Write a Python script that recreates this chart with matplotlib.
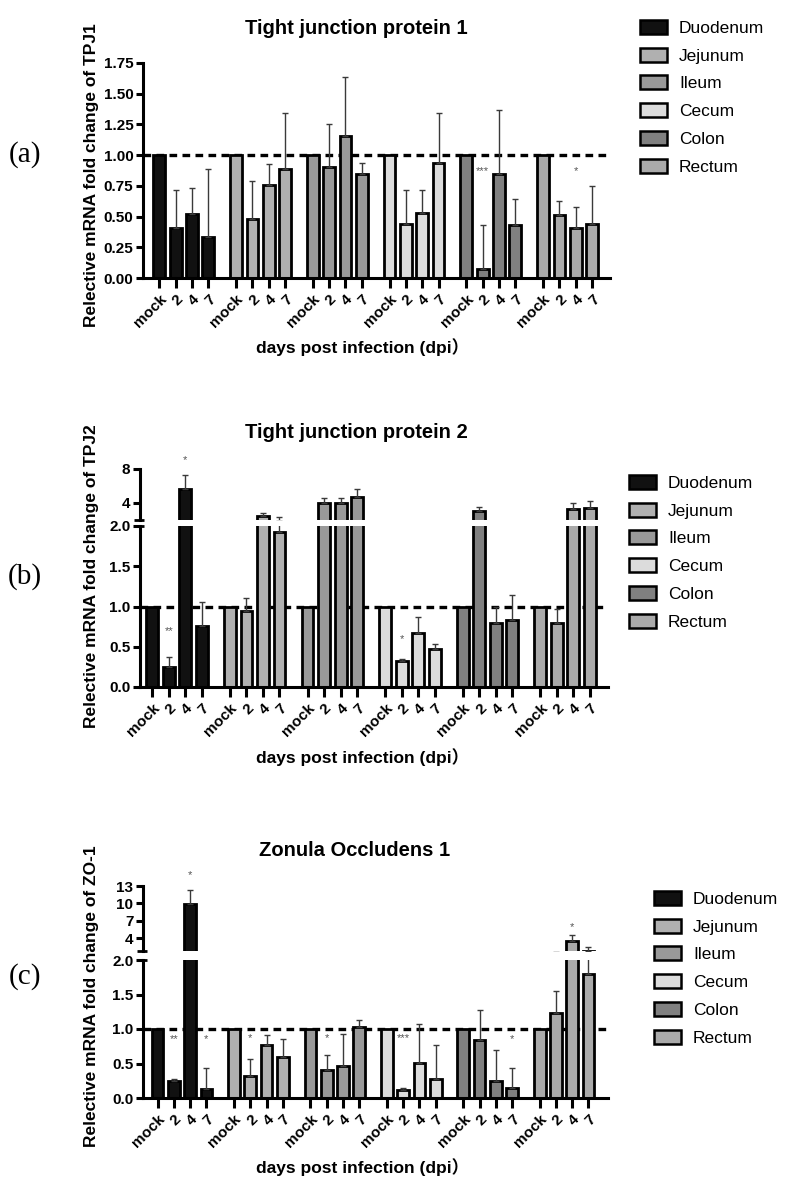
import numpy as np
import matplotlib.pyplot as plt
from matplotlib.patches import Patch

plt.rcParams['font.family'] = ['Liberation Sans', 'Noto Sans CJK SC', 'DejaVu Sans']
plt.rcParams['font.weight'] = 'bold'

W, H = 790, 1187

tissues = ["Duodenum", "Jejunum", "Ileum", "Cecum", "Colon", "Rectum"]
days = ["mock", "2", "4", "7"]
colors = ["#111111", "#b0b0b0", "#999999", "#dcdcdc", "#808080", "#aaaaaa"]

# panel (a) TPJ1: mean and upper error, one row per tissue
tpj1_mean = [[1.0, 0.41, 0.52, 0.33],
             [1.0, 0.48, 0.755, 0.89],
             [1.0, 0.905, 1.155, 0.845],
             [1.0, 0.44, 0.53, 0.94],
             [1.0, 0.075, 0.85, 0.43],
             [1.0, 0.51, 0.41, 0.44]]
tpj1_err = [[0, 0.31, 0.21, 0.56],
            [0, 0.31, 0.175, 0.45],
            [0, 0.345, 0.485, 0.095],
            [0, 0.28, 0.19, 0.405],
            [0, 0.355, 0.52, 0.21],
            [0, 0.12, 0.17, 0.305]]
tpj1_stars = [(4, 1, "***", 0.87), (5, 2, "*", 0.87)]

# panel (b) TPJ2
tpj2_mean = [[1.0, 0.25, 5.7, 0.76],
             [1.0, 0.94, 2.42, 1.92],
             [1.0, 4.0, 4.0, 4.65],
             [1.0, 0.32, 0.675, 0.47],
             [1.0, 3.0, 0.80, 0.83],
             [1.0, 0.80, 3.3, 3.46]]
tpj2_err = [[0, 0.12, 1.57, 0.29],
            [0, 0.16, 0.43, 0.38],
            [0, 0.6, 0.6, 1.05],
            [0, 0.03, 0.2, 0.06],
            [0, 0.58, 0.2, 0.31],
            [0, 0.17, 0.66, 0.77]]
tpj2_stars = [(0, 1, "**", 0.69), (0, 2, "*", 9.06), (3, 1, "*", 0.6)]

# panel (c) ZO-1
zo1_mean = [[1.0, 0.24, 9.9, 0.13],
            [1.0, 0.32, 0.77, 0.60],
            [1.0, 0.41, 0.46, 1.03],
            [1.0, 0.12, 0.51, 0.275],
            [1.0, 0.84, 0.24, 0.14],
            [1.0, 1.23, 3.4, 1.79]]
zo1_err = [[0, 0.035, 2.4, 0.305],
           [0, 0.25, 0.14, 0.25],
           [0, 0.21, 0.47, 0.105],
           [0, 0.025, 0.56, 0.495],
           [0, 0.43, 0.46, 0.29],
           [0, 0.32, 1.2, 0.6]]
zo1_stars = [(0, 1, "**", 0.85), (0, 2, "*", 14.9), (0, 3, "*", 0.85),
             (1, 1, "*", 0.87), (2, 1, "*", 0.87), (3, 1, "***", 0.87),
             (4, 3, "*", 0.85), (5, 2, "*", 5.9)]

G = 4.7  # group stride in bar units


def px_axes(fig, left, right, top, bottom):
    return fig.add_axes([left / W, 1 - bottom / H, (right - left) / W, (bottom - top) / H])


def draw_bars(ax, means, errs):
    ax.axhline(1.0, color="black", lw=2.4, ls=(0, (2.3, 1.6)), zorder=1)
    for g in range(len(tissues)):
        x = g * G + np.arange(len(days))
        m = np.array(means[g])
        e = np.array(errs[g])
        ax.bar(x, m, 0.72, color=colors[g], edgecolor="black", lw=2.0, zorder=2)
        k = e > 0
        ax.errorbar(x[k], m[k], yerr=[np.zeros(k.sum()), e[k]], fmt="none",
                    ecolor="#3a3a3a", elinewidth=1.0, capsize=2.5, capthick=1.0, zorder=3)


def style(ax):
    for s in ["top", "right"]:
        ax.spines[s].set_visible(False)
    for s in ["left", "bottom"]:
        ax.spines[s].set_linewidth(2.2)
    ax.tick_params(width=2.2, length=5, labelsize=11, pad=2)


def set_xticks(ax):
    pos = [g * G + i for g in range(len(tissues)) for i in range(len(days))]
    ax.set_xticks(pos)
    ax.set_xticklabels(days * len(tissues), rotation=45, ha="right",
                       rotation_mode="anchor", fontsize=11)
    ax.tick_params(axis="x", length=7, pad=3)


def stars(ax, items):
    for g, i, s, y in items:
        ax.text(g * G + i, y, s, ha="center", va="center", fontsize=8,
                color="#555555", fontweight="normal")


def legend(fig, left, top):
    handles = [Patch(facecolor=c, edgecolor="black", lw=1.8) for c in colors]
    fig.legend(handles, tissues, loc="upper left",
               bbox_to_anchor=(left / W, 1 - top / H), frameon=False,
               prop={"weight": "normal", "size": 12.5}, handlelength=1.55,
               handleheight=0.85, handletextpad=0.7, labelspacing=0.68,
               borderpad=0, borderaxespad=0)


def break_marks(ax_top, ax_bot):
    for ax, y in [(ax_top, 0), (ax_bot, 1)]:
        ax.plot([-0.012, 0.008], [y, y], transform=ax.transAxes, color="black",
                lw=2, clip_on=False, solid_capstyle="butt")


fig = plt.figure(figsize=(W / 100, H / 100), dpi=100)

# ---- (a)
ax = px_axes(fig, 143, 610, 63, 278)
draw_bars(ax, tpj1_mean, tpj1_err)
style(ax)
ax.set_ylim(0, 1.75)
ax.set_yticks(np.arange(0, 1.76, 0.25))
ax.set_yticklabels([f"{v:.2f}" for v in np.arange(0, 1.76, 0.25)])
ax.set_xlim(-1.0, 27.6)
set_xticks(ax)
stars(ax, tpj1_stars)
fig.text(356 / W, 1 - 28 / H, "Tight junction protein 1", ha="center", va="center", fontsize=14.5)
fig.text(92 / W, 1 - 175 / H, "Relective mRNA fold change of TPJ1", rotation=90,
         ha="center", va="center", fontsize=12.5)
fig.text(363 / W, 1 - 347 / H, "days post infection (dpi）", ha="center", va="center", fontsize=12.5)
fig.text(25 / W, 1 - 155 / H, "(a)", family="Liberation Serif", fontweight="normal",
         ha="center", va="center", fontsize=21)
legend(fig, 640, 20)

# ---- (b)
axt = px_axes(fig, 140, 608, 469, 520)
axb = px_axes(fig, 140, 608, 526, 687)
for a in (axt, axb):
    draw_bars(a, tpj2_mean, tpj2_err)
    style(a)
    a.set_xlim(-0.75, 27.6)
axt.set_ylim(2, 8)
axt.set_yticks([4, 8])
axt.spines["bottom"].set_visible(False)
axt.tick_params(axis="x", bottom=False, labelbottom=False)
axb.set_ylim(0, 2)
axb.set_yticks(np.arange(0, 2.01, 0.5))
axb.set_yticklabels([f"{v:.1f}" for v in np.arange(0, 2.01, 0.5)])
set_xticks(axb)
break_marks(axt, axb)
stars(axb, [s for s in tpj2_stars if s[3] < 2])
stars(axt, [s for s in tpj2_stars if s[3] >= 2])
fig.text(356 / W, 1 - 433 / H, "Tight junction protein 2", ha="center", va="center", fontsize=14.5)
fig.text(92 / W, 1 - 576 / H, "Relective mRNA fold change of TPJ2", rotation=90,
         ha="center", va="center", fontsize=12.5)
fig.text(363 / W, 1 - 757 / H, "days post infection (dpi）", ha="center", va="center", fontsize=12.5)
fig.text(25 / W, 1 - 577 / H, "(b)", family="Liberation Serif", fontweight="normal",
         ha="center", va="center", fontsize=21)
legend(fig, 629, 475)

# ---- (c)
axt = px_axes(fig, 143, 608, 886, 951)
axb = px_axes(fig, 143, 608, 960, 1098)
for a in (axt, axb):
    draw_bars(a, zo1_mean, zo1_err)
    style(a)
    a.set_xlim(-0.9, 27.7)
axt.set_ylim(1.75, 13)
axt.set_yticks([4, 7, 10, 13])
axt.spines["bottom"].set_visible(False)
axt.tick_params(axis="x", bottom=False, labelbottom=False)
axb.set_ylim(0, 2)
axb.set_yticks(np.arange(0, 2.01, 0.5))
axb.set_yticklabels([f"{v:.1f}" for v in np.arange(0, 2.01, 0.5)])
set_xticks(axb)
break_marks(axt, axb)
stars(axb, [s for s in zo1_stars if s[3] < 2])
stars(axt, [s for s in zo1_stars if s[3] >= 2])
fig.text(355 / W, 1 - 850 / H, "Zonula Occludens 1", ha="center", va="center", fontsize=14.5)
fig.text(92 / W, 1 - 996 / H, "Relective mRNA fold change of ZO-1", rotation=90,
         ha="center", va="center", fontsize=12.5)
fig.text(363 / W, 1 - 1167 / H, "days post infection (dpi）", ha="center", va="center", fontsize=12.5)
fig.text(25 / W, 1 - 977 / H, "(c)", family="Liberation Serif", fontweight="normal",
         ha="center", va="center", fontsize=21)
legend(fig, 654, 891)

fig.savefig("out.png", dpi=100)
